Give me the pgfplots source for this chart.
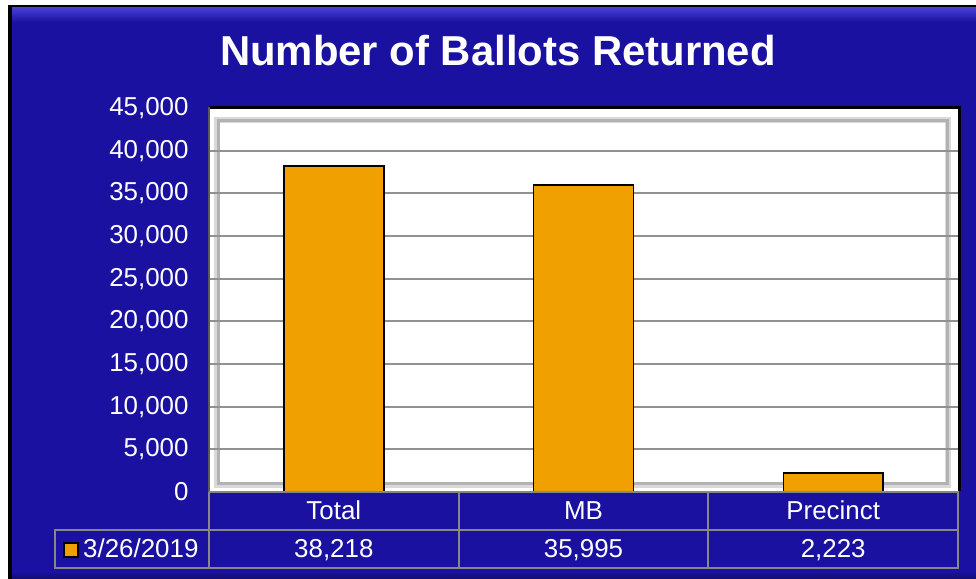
\documentclass[border=0pt]{standalone}
\usepackage{fontspec}
\setmainfont{Liberation Sans}
\usepackage{pgfplots}
\pgfplotsset{compat=1.18}
\definecolor{bgblue}{RGB}{26,17,161}
\definecolor{bgtop}{RGB}{72,62,212}
\definecolor{barorange}{RGB}{240,160,0}
\definecolor{gridgray}{RGB}{145,145,145}
\definecolor{tblgray}{RGB}{135,135,135}
\begin{document}
\begin{tikzpicture}[x=1bp,y=1bp]
\useasboundingbox (0,0) rectangle (976,579);
% background
\fill[white] (0,0) rectangle (976,579);
\fill[black] (8,0) rectangle (976,574);
\fill[bgblue] (12,0) rectangle (976,571);
\shade[top color=bgtop, bottom color=bgblue] (12,571) rectangle (976,557);
\shade[top color=bgblue, bottom color=bgblue!70!black] (12,7) rectangle (976,0);
% title
\node[white, font=\fontsize{42}{48}\selectfont\bfseries, anchor=base] at (498,513) {Number of Ballots Returned};
% plot area with 3D-like walls
\fill[white] (209,87) rectangle (958,471);
\draw[gray!30, line width=8bp] (218,95) rectangle (947,458);
\draw[gray!60, line width=3bp] (218,95) rectangle (947,458);
\fill[white] (220,97) rectangle (945,456);
\begin{axis}[
  at={(209bp,87bp)}, anchor=south west,
  scale only axis, width=749bp, height=384bp,
  xmin=-0.5, xmax=2.5, ymin=0, ymax=45000,
  ybar, bar width=0.4,
  ytick={0,5000,...,45000},
  xtick={0,1,2}, xticklabels={Total,MB,Precinct},
  major tick length=0pt,
  ymajorgrids, grid style={gridgray, line width=2.2bp},
  axis line style={draw=none},
  scaled y ticks=false,
  /pgf/number format/1000 sep={,},
  /pgf/number format/assume math mode=true,
  yticklabel style={text=white, font=\fontsize{26}{30}\selectfont, xshift=-17bp},
  xticklabel style={text=white, font=\fontsize{26}{30}\selectfont, anchor=base, yshift=-28bp},
  clip=false,
]
\addplot[fill=barorange, draw=black, line width=1.5bp] coordinates {(0,38218) (1,35995) (2,2223)};
\node[text=white, font=\fontsize{26}{30}\selectfont, anchor=base] at ([yshift=-66bp]axis cs:0,0) {38,218};
\node[text=white, font=\fontsize{26}{30}\selectfont, anchor=base] at ([yshift=-66bp]axis cs:1,0) {35,995};
\node[text=white, font=\fontsize{26}{30}\selectfont, anchor=base] at ([yshift=-66bp]axis cs:2,0) {2,223};
\end{axis}
% frame lines
\draw[black, line width=3bp] (209,471) -- (959.5,471) -- (959.5,88);
\draw[gray!70!black, line width=2bp] (209,472) -- (209,87);
% data table
\draw[tblgray, line width=2bp] (209,87) -- (958,87) -- (958,11) -- (55,11) -- (55,49) -- (958,49);
\draw[tblgray, line width=2bp] (209,87) -- (209,11);
\draw[tblgray, line width=2bp] (459,87) -- (459,11);
\draw[tblgray, line width=2bp] (708,87) -- (708,11);
% legend key
\draw[black, fill=barorange, line width=1.2bp] (64,22) rectangle (78,36);
\node[text=white, font=\fontsize{26}{30}\selectfont, anchor=base west, inner sep=0pt] at (83,21) {3/26/2019};
\end{tikzpicture}
\end{document}
